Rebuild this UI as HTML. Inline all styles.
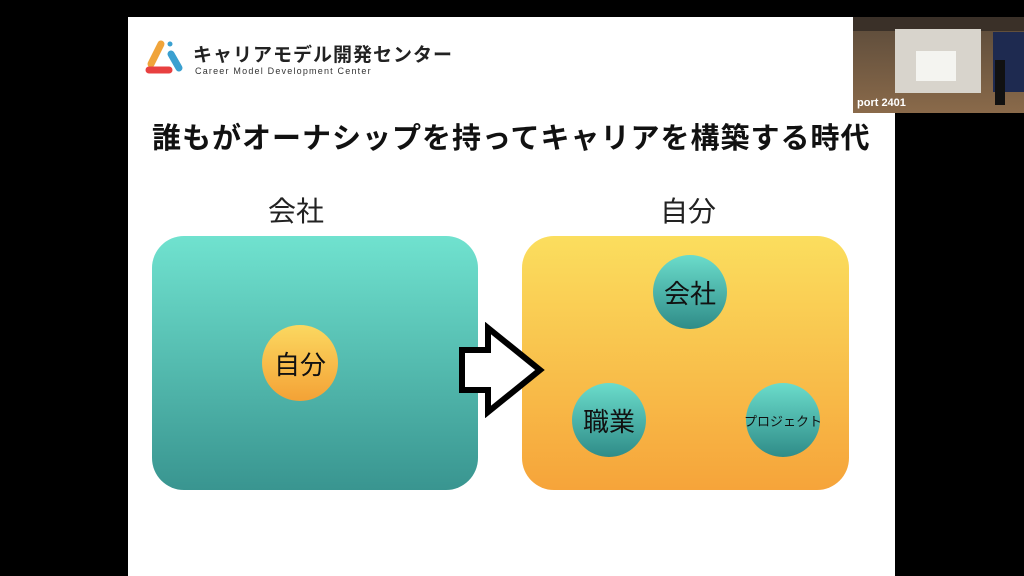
<!DOCTYPE html>
<html><head><meta charset="utf-8"><style>
body{margin:0;width:1024px;height:576px;background:#000;position:relative;overflow:hidden;font-family:"Liberation Sans","Noto Sans CJK JP",sans-serif}
.slide{position:absolute;left:128px;top:17px;width:767px;height:559px;background:#fff}
.a{position:absolute}
.box{position:absolute;border-radius:32px}
.c{position:absolute;border-radius:50%;display:flex;align-items:center;justify-content:center;color:#111;white-space:nowrap}
</style></head><body>
<div class="slide"></div>
<svg class="a" style="left:143px;top:38px" width="44" height="40">
<line x1="8" y1="26" x2="18" y2="6" stroke="#f0a43a" stroke-width="7" stroke-linecap="round"/>
<line x1="28" y1="16" x2="36" y2="30" stroke="#3aa0d0" stroke-width="7" stroke-linecap="round"/>
<circle cx="27" cy="6" r="2.5" fill="#3aa0d0"/>
<line x1="6" y1="32" x2="26" y2="32" stroke="#e84040" stroke-width="7" stroke-linecap="round"/>
</svg>
<div class="a" style="left:193px;top:40px;font-size:19px;font-weight:bold;color:#222;letter-spacing:1px">キャリアモデル開発センター</div>
<div class="a" style="left:195px;top:66px;font-size:9px;color:#333;letter-spacing:1.2px">Career Model Development Center</div>
<div class="a" style="left:152px;top:115px;font-size:29px;font-weight:bold;color:#111;letter-spacing:1px;white-space:nowrap">誰もがオーナシップを持ってキャリアを構築する時代</div>
<div class="a" style="left:268px;top:190px;font-size:28px;color:#222">会社</div>
<div class="a" style="left:660px;top:190px;font-size:28px;color:#222">自分</div>
<div class="box" style="left:152px;top:236px;width:326px;height:254px;background:linear-gradient(#70e2cf,#399590)"></div>
<div class="box" style="left:522px;top:236px;width:327px;height:254px;background:linear-gradient(#fbde5e,#f6a43a)"></div>
<div class="c" style="left:262px;top:325px;width:76px;height:76px;background:linear-gradient(#fbd860,#f4a236);font-size:26px">自分</div>
<div class="c" style="left:653px;top:255px;width:74px;height:74px;background:linear-gradient(#6bdccb,#2f8c88);font-size:26px">会社</div>
<div class="c" style="left:572px;top:383px;width:74px;height:74px;background:linear-gradient(#6bdccb,#2f8c88);font-size:26px">職業</div>
<div class="c" style="left:746px;top:383px;width:74px;height:74px;background:linear-gradient(#6bdccb,#2f8c88);font-size:13px">プロジェクト</div>
<svg class="a" style="left:455px;top:322px" width="92" height="96">
<polygon points="7,28 33,28 33,6 85,48 33,90 33,68 7,68" fill="#fff" stroke="#000" stroke-width="6" stroke-linejoin="miter"/>
</svg>
<div class="a" style="left:853px;top:17px;width:171px;height:96px;background:linear-gradient(#5a4a3a,#8a6a4a)">
<div class="a" style="left:0;top:0;width:171px;height:14px;background:#3a3028"></div>
<div class="a" style="left:42px;top:12px;width:86px;height:64px;background:#d8d4cc"></div>
<div class="a" style="left:63px;top:34px;width:40px;height:30px;background:#f4f4f0"></div>
<div class="a" style="left:140px;top:15px;width:31px;height:60px;background:#1e2a50"></div>
<div class="a" style="left:142px;top:43px;width:10px;height:45px;background:#111"></div>
<div class="a" style="left:4px;top:80px;font-size:11px;color:#fff;font-weight:bold">port 2401</div>
</div>
</body></html>
